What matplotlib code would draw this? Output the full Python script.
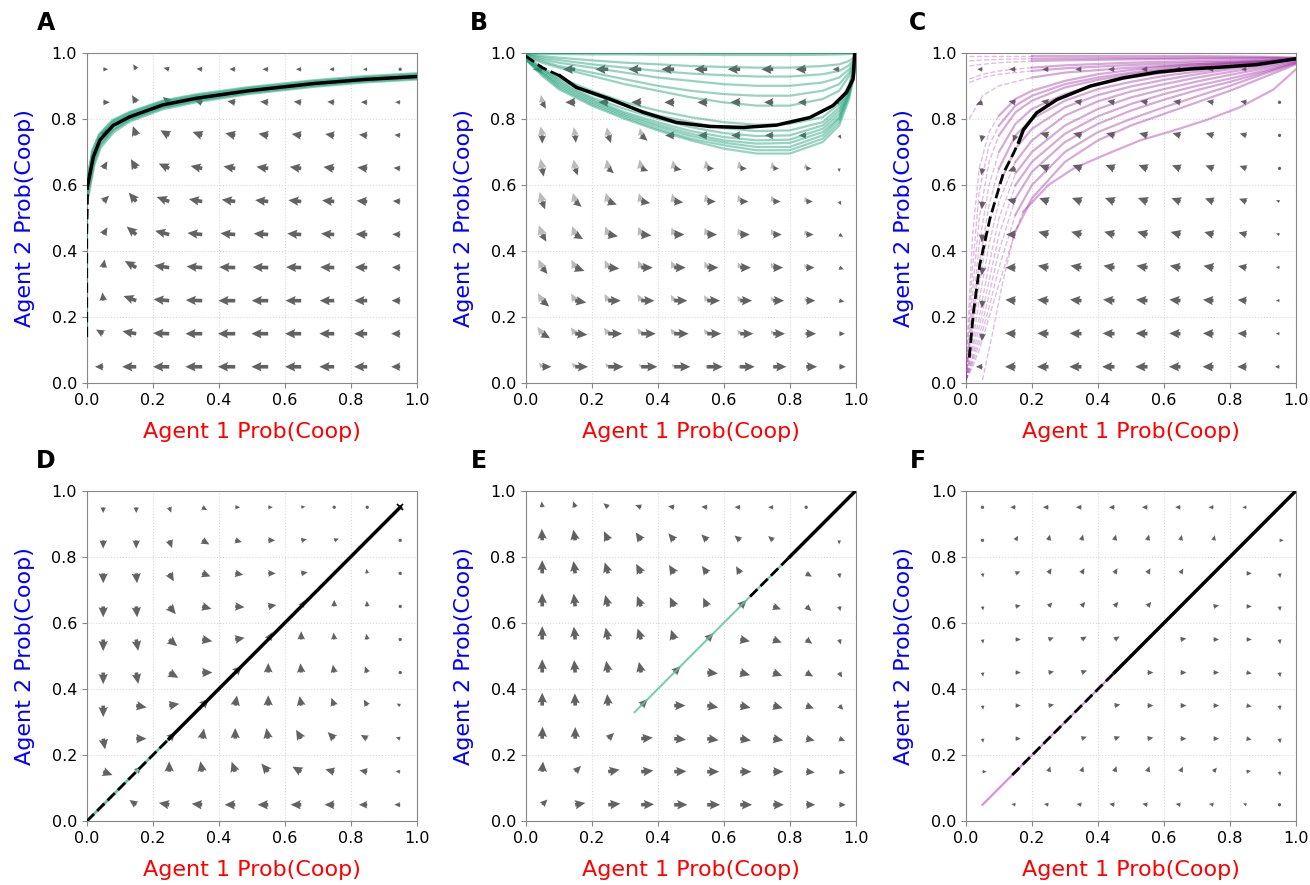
import numpy as np
import matplotlib.pyplot as plt

# ---------------- data ----------------
grid_pts = [0.05, 0.15, 0.25, 0.35, 0.45, 0.55, 0.65, 0.75, 0.85, 0.95]

# vector fields: rows listed top (y=0.95) to bottom (y=0.05); angle in degrees, relative length
A_ang = [[0, 120, 165, 175, 178, 180, 180, 180, 180, 180],
         [0, 120, 140, 165, 172, 175, 175, 175, 178, 178],
         [60, 110, 150, 160, 168, 170, 172, 172, 175, 175],
         [60, 120, 155, 168, 170, 172, 172, 172, 174, 175],
         [45, 130, 160, 170, 172, 174, 174, 175, 176, 176],
         [60, 140, 165, 174, 175, 176, 176, 176, 178, 178],
         [80, 150, 172, 176, 178, 178, 178, 178, 178, 178],
         [95, 160, 175, 178, 180, 180, 180, 180, 180, 180],
         [150, 170, 178, 180, 180, 180, 180, 180, 180, 180],
         [180, 180, 180, 180, 180, 180, 180, 180, 180, 180]]
A_mag = [[0.3, 0.35, 0.35, 0.35, 0.35, 0.35, 0.32, 0.3, 0.25, 0.18],
         [0.4, 0.5, 0.5, 0.5, 0.48, 0.48, 0.45, 0.42, 0.38, 0.3],
         [0.45, 0.6, 0.62, 0.62, 0.62, 0.6, 0.58, 0.55, 0.5, 0.35],
         [0.5, 0.65, 0.7, 0.72, 0.72, 0.72, 0.7, 0.66, 0.6, 0.4],
         [0.5, 0.7, 0.8, 0.82, 0.82, 0.8, 0.78, 0.74, 0.65, 0.45],
         [0.5, 0.75, 0.88, 0.9, 0.9, 0.88, 0.85, 0.8, 0.7, 0.48],
         [0.5, 0.8, 0.92, 0.95, 0.97, 0.95, 0.92, 0.85, 0.75, 0.5],
         [0.5, 0.82, 0.95, 1.0, 1.02, 1.0, 0.95, 0.88, 0.78, 0.52],
         [0.5, 0.85, 0.98, 1.02, 1.05, 1.02, 0.98, 0.9, 0.8, 0.55],
         [0.5, 0.85, 0.98, 1.02, 1.05, 1.02, 0.98, 0.9, 0.8, 0.55]]

B_dark_ang = [[180] * 10,
              [300, 180, 180, 180, 180, 180, 180, 180, 180, 180],
              [270, 275, 290, 320, 180, 180, 180, 180, 180, 300],
              [280, 290, 320, 340, 350, 0, 0, 0, 0, 270],
              [290, 320, 340, 350, 355, 0, 0, 0, 0, 300],
              [300, 330, 350, 355, 0, 0, 0, 0, 0, 330],
              [310, 340, 355, 0, 0, 0, 0, 0, 0, 340],
              [320, 350, 0, 0, 0, 0, 0, 0, 0, 350],
              [330, 355, 0, 0, 0, 0, 0, 0, 0, 0],
              [0] * 10]
B_dark_mag = [[0.55, 0.75, 0.78, 0.78, 0.78, 0.78, 0.76, 0.72, 0.65, 0.4],
              [0.45, 0.6, 0.6, 0.6, 0.6, 0.6, 0.6, 0.55, 0.5, 0.3],
              [0.5, 0.45, 0.5, 0.5, 0.55, 0.55, 0.55, 0.5, 0.45, 0.25],
              [0.5, 0.45, 0.45, 0.45, 0.45, 0.42, 0.4, 0.35, 0.32, 0.22],
              [0.5, 0.5, 0.55, 0.55, 0.55, 0.52, 0.5, 0.45, 0.4, 0.25],
              [0.5, 0.55, 0.6, 0.62, 0.62, 0.6, 0.58, 0.52, 0.45, 0.28],
              [0.5, 0.6, 0.68, 0.7, 0.7, 0.68, 0.65, 0.6, 0.5, 0.3],
              [0.55, 0.68, 0.76, 0.8, 0.8, 0.78, 0.72, 0.66, 0.55, 0.32],
              [0.55, 0.74, 0.85, 0.88, 0.88, 0.85, 0.8, 0.72, 0.6, 0.35],
              [0.55, 0.78, 0.92, 0.98, 0.98, 0.95, 0.88, 0.8, 0.66, 0.4]]

B_light_ang = [[100] * 10, [100] * 10, [100] * 10, [100] * 10, [105] * 10,
               [110] * 10, [115] * 10, [120] * 10, [125] * 10, [130] * 10]
B_light_mag = [[0] * 10,
               [0.45, 0, 0, 0, 0, 0, 0, 0, 0, 0],
               [0.55, 0.5, 0.5, 0.45, 0, 0, 0, 0, 0, 0],
               [0.6, 0.55, 0.55, 0.55, 0.5, 0.5, 0.45, 0.4, 0.32, 0],
               [0.6, 0.55, 0.55, 0.52, 0.5, 0.46, 0.42, 0.38, 0.3, 0],
               [0.6, 0.55, 0.52, 0.5, 0.46, 0.44, 0.4, 0.35, 0.28, 0],
               [0.55, 0.52, 0.5, 0.46, 0.44, 0.4, 0.36, 0.32, 0.25, 0],
               [0.52, 0.5, 0.46, 0.44, 0.4, 0.38, 0.33, 0.28, 0.22, 0],
               [0.5, 0.46, 0.44, 0.4, 0.38, 0.35, 0.3, 0.26, 0.2, 0],
               [0.32, 0.32, 0.28, 0.22, 0.22, 0.2, 0.16, 0, 0, 0]]

C_ang = [[180, 180, 180, 180, 180, 180, 180, 180, 180, 180],
         [200, 170, 170, 170, 170, 170, 170, 170, 170, 170],
         [260, 250, 165, 165, 165, 165, 165, 165, 165, 165],
         [260, 200, 160, 160, 160, 160, 160, 160, 160, 160],
         [265, 165, 160, 160, 160, 160, 160, 160, 160, 160],
         [265, 180, 165, 165, 165, 165, 165, 165, 165, 165],
         [265, 180, 170, 170, 170, 170, 170, 170, 170, 170],
         [265, 175, 175, 175, 175, 175, 175, 175, 175, 175],
         [265, 178, 178, 178, 178, 178, 178, 178, 178, 178],
         [180, 180, 180, 180, 180, 180, 180, 180, 180, 180]]
C_mag = [[0.32, 0.38, 0.38, 0.38, 0.38, 0.38, 0.38, 0.35, 0.32, 0],
         [0.42, 0.42, 0.45, 0.45, 0.45, 0.45, 0.45, 0.42, 0.38, 0.18],
         [0.42, 0.42, 0.52, 0.52, 0.52, 0.52, 0.5, 0.48, 0.42, 0.18],
         [0.42, 0.48, 0.58, 0.58, 0.58, 0.58, 0.55, 0.52, 0.45, 0.18],
         [0.48, 0.52, 0.6, 0.62, 0.62, 0.62, 0.58, 0.55, 0.48, 0.22],
         [0.48, 0.58, 0.64, 0.65, 0.65, 0.65, 0.62, 0.58, 0.5, 0.22],
         [0.48, 0.6, 0.66, 0.68, 0.68, 0.68, 0.66, 0.62, 0.52, 0.22],
         [0.45, 0.62, 0.68, 0.7, 0.7, 0.7, 0.68, 0.64, 0.54, 0.22],
         [0.45, 0.62, 0.68, 0.72, 0.72, 0.72, 0.68, 0.64, 0.54, 0.22],
         [0.4, 0.64, 0.7, 0.74, 0.75, 0.74, 0.7, 0.66, 0.56, 0.28]]

D_ang = [[270, 270, 290, 330, 0, 0, 10, 20, 45, 0],
         [270, 270, 290, 330, 345, 0, 10, 20, 0, 80],
         [270, 275, 300, 340, 350, 0, 10, 0, 100, 90],
         [270, 275, 310, 345, 355, 10, 60, 90, 95, 100],
         [270, 280, 320, 350, 10, 60, 90, 95, 100, 110],
         [270, 280, 330, 0, 45, 90, 95, 100, 110, 120],
         [270, 350, 10, 45, 80, 90, 100, 110, 120, 150],
         [280, 0, 45, 80, 90, 100, 120, 135, 150, 165],
         [340, 45, 90, 100, 110, 130, 150, 165, 170, 175],
         [45, 145, 170, 175, 180, 180, 180, 180, 180, 180]]
D_mag = [[0.35, 0.35, 0.35, 0.35, 0.3, 0.28, 0.25, 0.2, 0.14, 0],
         [0.5, 0.5, 0.5, 0.5, 0.42, 0.42, 0.35, 0.3, 0, 0.16],
         [0.6, 0.6, 0.56, 0.54, 0.5, 0.45, 0.4, 0, 0.28, 0.16],
         [0.66, 0.66, 0.62, 0.58, 0.56, 0.5, 0.42, 0.4, 0.34, 0.2],
         [0.7, 0.7, 0.64, 0.62, 0.58, 0.5, 0.5, 0.42, 0.35, 0.2],
         [0.7, 0.7, 0.64, 0.62, 0.58, 0.58, 0.56, 0.48, 0.4, 0.2],
         [0.7, 0.64, 0.62, 0.58, 0.62, 0.62, 0.58, 0.5, 0.42, 0.25],
         [0.66, 0.62, 0.54, 0.62, 0.64, 0.64, 0.62, 0.56, 0.45, 0.28],
         [0.6, 0.45, 0.62, 0.64, 0.64, 0.64, 0.62, 0.56, 0.48, 0.28],
         [0.2, 0.5, 0.64, 0.64, 0.64, 0.64, 0.64, 0.58, 0.5, 0.35]]

E_ang = [[95, 110, 140, 160, 170, 175, 178, 180, 180, 0],
         [92, 100, 115, 125, 130, 135, 140, 140, 0, 270],
         [90, 98, 108, 118, 122, 125, 120, 0, 330, 280],
         [90, 97, 105, 112, 115, 115, 45, 340, 320, 285],
         [90, 96, 102, 108, 108, 45, 350, 340, 325, 290],
         [90, 95, 100, 102, 45, 355, 345, 340, 330, 300],
         [90, 92, 95, 45, 0, 350, 348, 345, 340, 315],
         [88, 90, 45, 5, 355, 352, 350, 350, 348, 340],
         [85, 45, 10, 5, 2, 0, 0, 0, 355, 350],
         [45, 10, 5, 2, 0, 0, 0, 0, 0, 0]]
E_mag = [[0.35, 0.38, 0.38, 0.38, 0.38, 0.36, 0.34, 0.3, 0.22, 0],
         [0.7, 0.65, 0.6, 0.58, 0.55, 0.5, 0.45, 0.4, 0, 0.25],
         [0.8, 0.75, 0.7, 0.65, 0.6, 0.55, 0.5, 0, 0.4, 0.3],
         [0.8, 0.78, 0.72, 0.68, 0.62, 0.58, 0.55, 0.5, 0.42, 0.3],
         [0.8, 0.78, 0.74, 0.7, 0.62, 0.55, 0.6, 0.55, 0.45, 0.32],
         [0.8, 0.76, 0.72, 0.66, 0.55, 0.65, 0.62, 0.58, 0.48, 0.35],
         [0.78, 0.74, 0.7, 0.55, 0.68, 0.68, 0.64, 0.6, 0.5, 0.36],
         [0.72, 0.7, 0.5, 0.7, 0.72, 0.7, 0.66, 0.62, 0.52, 0.38],
         [0.62, 0.5, 0.7, 0.74, 0.74, 0.72, 0.68, 0.62, 0.52, 0.38],
         [0.45, 0.62, 0.74, 0.78, 0.8, 0.78, 0.72, 0.65, 0.55, 0.4]]

F_ang = [[180, 180, 180, 180, 180, 180, 180, 180, 180, 0],
         [0, 60, 75, 75, 75, 75, 75, 75, 0, 0],
         [280, 20, 60, 60, 60, 60, 60, 0, 0, 280],
         [280, 10, 45, 50, 50, 50, 45, 10, 0, 280],
         [280, 0, 20, 30, 30, 45, 10, 0, 0, 280],
         [280, 0, 10, 20, 45, 0, 0, 0, 350, 280],
         [280, 0, 10, 45, 10, 0, 0, 0, 350, 280],
         [280, 0, 45, 20, 20, 10, 0, 0, 350, 280],
         [0, 45, 70, 70, 70, 70, 65, 50, 10, 280],
         [45, 170, 170, 170, 170, 170, 170, 170, 160, 30]]
F_mag = [[0.2, 0.32, 0.34, 0.34, 0.34, 0.34, 0.32, 0.3, 0.25, 0],
         [0.22, 0.32, 0.36, 0.36, 0.36, 0.36, 0.34, 0.32, 0, 0.25],
         [0.25, 0.32, 0.36, 0.36, 0.36, 0.36, 0.34, 0, 0.32, 0.28],
         [0.25, 0.32, 0.34, 0.36, 0.36, 0.36, 0, 0.34, 0.32, 0.28],
         [0.25, 0.32, 0.34, 0.36, 0.36, 0, 0.36, 0.34, 0.32, 0.28],
         [0.25, 0.32, 0.34, 0.36, 0, 0.36, 0.36, 0.34, 0.32, 0.28],
         [0.25, 0.32, 0.34, 0, 0.36, 0.36, 0.36, 0.34, 0.32, 0.28],
         [0.25, 0.32, 0, 0.34, 0.36, 0.36, 0.36, 0.34, 0.32, 0.28],
         [0.25, 0, 0.34, 0.34, 0.36, 0.36, 0.34, 0.32, 0.28, 0.25],
         [0, 0.25, 0.28, 0.3, 0.32, 0.32, 0.3, 0.28, 0.22, 0.2]]

# ---- trajectories ----
# panel A
A_mean_dash_x = [0.0, 0.0, 0.003]
A_mean_dash_y = [0.14, 0.45, 0.6]
A_x = [0.003, 0.02, 0.04, 0.08, 0.13, 0.23, 0.33, 0.49, 0.69, 0.84, 1.0]
A_mean_y = [0.6, 0.685, 0.736, 0.78, 0.806, 0.842, 0.862, 0.885, 0.907, 0.919, 0.928]
A_runs = [[0.58, 0.67, 0.725, 0.77, 0.8, 0.836, 0.857, 0.881, 0.903, 0.916, 0.925],
          [0.6, 0.7, 0.748, 0.79, 0.815, 0.849, 0.868, 0.89, 0.911, 0.923, 0.932],
          [0.57, 0.66, 0.715, 0.762, 0.795, 0.832, 0.853, 0.878, 0.9, 0.913, 0.922],
          [0.61, 0.705, 0.752, 0.794, 0.818, 0.852, 0.871, 0.893, 0.914, 0.926, 0.935]]

# panel B
B_x = [0, 0.05, 0.1, 0.2, 0.3, 0.4, 0.5, 0.6, 0.7, 0.8, 0.9, 0.95, 0.98, 1.0, 1.0]
B_runs = [[0.98, 0.93, 0.89, 0.84, 0.80, 0.765, 0.735, 0.71, 0.695, 0.695, 0.73, 0.78, 0.86, 0.95, 1.0],
          [0.98, 0.935, 0.895, 0.845, 0.805, 0.77, 0.74, 0.72, 0.705, 0.705, 0.74, 0.79, 0.87, 0.955, 1.0],
          [0.98, 0.94, 0.9, 0.85, 0.81, 0.777, 0.748, 0.728, 0.715, 0.715, 0.75, 0.80, 0.875, 0.96, 1.0],
          [0.98, 0.94, 0.905, 0.855, 0.815, 0.783, 0.755, 0.735, 0.725, 0.727, 0.76, 0.805, 0.88, 0.96, 1.0],
          [0.985, 0.945, 0.91, 0.86, 0.82, 0.79, 0.763, 0.745, 0.735, 0.737, 0.77, 0.815, 0.885, 0.965, 1.0],
          [0.985, 0.95, 0.915, 0.865, 0.83, 0.80, 0.775, 0.757, 0.748, 0.75, 0.78, 0.825, 0.89, 0.965, 1.0],
          [0.985, 0.95, 0.92, 0.875, 0.84, 0.81, 0.79, 0.772, 0.763, 0.765, 0.79, 0.835, 0.9, 0.97, 1.0],
          [0.99, 0.955, 0.925, 0.885, 0.85, 0.825, 0.805, 0.79, 0.782, 0.785, 0.805, 0.845, 0.905, 0.97, 1.0],
          [0.99, 0.97, 0.955, 0.93, 0.905, 0.885, 0.865, 0.85, 0.84, 0.84, 0.86, 0.885, 0.93, 0.97, 1.0],
          [0.99, 0.975, 0.96, 0.94, 0.92, 0.9, 0.885, 0.875, 0.87, 0.87, 0.885, 0.905, 0.94, 0.975, 1.0],
          [0.995, 0.98, 0.97, 0.955, 0.94, 0.925, 0.915, 0.905, 0.9, 0.9, 0.91, 0.925, 0.95, 0.98, 1.0],
          [0.995, 0.985, 0.978, 0.965, 0.955, 0.945, 0.937, 0.932, 0.928, 0.928, 0.935, 0.945, 0.962, 0.985, 1.0],
          [0.997, 0.99, 0.985, 0.977, 0.97, 0.965, 0.96, 0.957, 0.955, 0.955, 0.96, 0.965, 0.975, 0.99, 1.0],
          [0.998, 0.997, 0.996, 0.995, 0.995, 0.994, 0.994, 0.993, 0.993, 0.993, 0.994, 0.995, 0.996, 0.998, 1.0],
          [0.999] * 15]
B_mean_dash_x = [0.0, 0.05, 0.104]
B_mean_dash_y = [0.99, 0.955, 0.93]
B_mean_x = [0.104, 0.154, 0.255, 0.356, 0.457, 0.558, 0.659, 0.76, 0.861, 0.931, 0.972, 0.992, 0.997]
B_mean_y = [0.93, 0.895, 0.86, 0.82, 0.789, 0.777, 0.774, 0.781, 0.804, 0.84, 0.88, 0.92, 1.0]

# panel C: rising runs share x grid; first C_split points are the dashed start
C_rx = [0.0, 0.02, 0.04, 0.07, 0.1, 0.15, 0.2, 0.3, 0.4, 0.5, 0.6, 0.7, 0.8, 0.9, 1.0]
C_rise = [[0.05, 0.45, 0.65, 0.76, 0.81, 0.86, 0.885, 0.915, 0.935, 0.948, 0.958, 0.965, 0.97, 0.975, 0.98],
          [0.03, 0.35, 0.58, 0.72, 0.78, 0.84, 0.87, 0.905, 0.925, 0.94, 0.952, 0.96, 0.967, 0.973, 0.98],
          [0.02, 0.28, 0.5, 0.67, 0.75, 0.82, 0.855, 0.895, 0.918, 0.935, 0.948, 0.957, 0.965, 0.972, 0.98],
          [0.02, 0.22, 0.42, 0.6, 0.7, 0.785, 0.83, 0.875, 0.905, 0.925, 0.94, 0.95, 0.96, 0.97, 0.98],
          [0.02, 0.18, 0.36, 0.54, 0.65, 0.75, 0.8, 0.855, 0.89, 0.912, 0.93, 0.943, 0.955, 0.967, 0.98],
          [0.01, 0.15, 0.3, 0.48, 0.6, 0.71, 0.77, 0.835, 0.872, 0.898, 0.918, 0.935, 0.95, 0.963, 0.98],
          [0.01, 0.12, 0.25, 0.42, 0.55, 0.67, 0.735, 0.81, 0.853, 0.883, 0.905, 0.925, 0.942, 0.958, 0.978],
          [0.01, 0.1, 0.2, 0.36, 0.5, 0.635, 0.7, 0.78, 0.83, 0.865, 0.89, 0.913, 0.933, 0.952, 0.975],
          [0.01, 0.08, 0.17, 0.31, 0.45, 0.6, 0.67, 0.755, 0.808, 0.845, 0.875, 0.9, 0.922, 0.945, 0.972],
          [0.01, 0.07, 0.14, 0.27, 0.4, 0.56, 0.64, 0.73, 0.785, 0.825, 0.858, 0.887, 0.912, 0.94, 0.97],
          [0.01, 0.06, 0.12, 0.23, 0.35, 0.51, 0.6, 0.7, 0.76, 0.8, 0.835, 0.868, 0.9, 0.935, 0.968],
          [0.01, 0.05, 0.1, 0.2, 0.3, 0.46, 0.56, 0.67, 0.735, 0.78, 0.815, 0.85, 0.885, 0.925, 0.965]]
C_split = [5, 5, 5, 5, 5, 5, 6, 6, 6, 6, 6, 6]
C_low_x = [0.05, 0.08, 0.11, 0.144, 0.174, 0.25, 0.326, 0.43, 0.528, 0.63, 0.73, 0.83, 0.932, 1.0]
C_low_y = [0.01, 0.15, 0.3, 0.443, 0.52, 0.6, 0.65, 0.695, 0.735, 0.765, 0.797, 0.835, 0.889, 0.95]
C_tx = [0.01, 0.05, 0.1, 0.2, 0.3, 0.5, 0.7, 0.9, 1.0]
C_top = [[0.99, 0.99, 0.99, 0.99, 0.99, 0.99, 0.99, 0.988, 0.985],
         [0.975, 0.978, 0.98, 0.982, 0.983, 0.984, 0.985, 0.985, 0.984],
         [0.96, 0.965, 0.97, 0.975, 0.977, 0.98, 0.982, 0.983, 0.983],
         [0.92, 0.935, 0.945, 0.955, 0.962, 0.97, 0.975, 0.978, 0.98],
         [0.91, 0.925, 0.935, 0.945, 0.953, 0.963, 0.97, 0.975, 0.98],
         [0.8, 0.87, 0.9, 0.925, 0.94, 0.955, 0.965, 0.972, 0.98]]
C_mean_dash_x = [0.01, 0.022, 0.042, 0.073, 0.113, 0.144, 0.16]
C_mean_dash_y = [0.078, 0.21, 0.36, 0.50, 0.635, 0.696, 0.73]
C_mean_x = [0.16, 0.174, 0.214, 0.275, 0.376, 0.477, 0.578, 0.679, 0.78, 0.88, 1.0]
C_mean_y = [0.73, 0.767, 0.818, 0.858, 0.899, 0.924, 0.941, 0.951, 0.957, 0.964, 0.982]

# panels D-F: symmetric runs along the diagonal
D_run = [0.0, 0.25]
D_mean_dash = [0.0, 0.25]
D_mean = [0.25, 0.95]
E_run = [0.33, 0.8]
E_mean_dash = [0.68, 0.8]
E_mean = [0.8, 1.0]
F_run = [0.05, 0.45]
F_mean_dash = [0.14, 0.45]
F_mean = [0.45, 1.0]

GREEN = '#1b9e77'
PURPLE = '#9a2a9e'
ARROW = '#5a5a5a'


def field(ax, ang, mag, color=ARROW, alpha=0.95):
    a = np.radians(np.array(ang, dtype=float)[::-1])
    m = np.array(mag, dtype=float)[::-1]
    X, Y = np.meshgrid(grid_pts, grid_pts)
    mask = m <= 0
    U = np.ma.masked_array(m * np.cos(a), mask)
    V = np.ma.masked_array(m * np.sin(a), mask)
    ax.quiver(X, Y, U, V, angles='xy', scale_units='xy', scale=20,
              color=color, alpha=alpha, width=0.011, headwidth=2.6,
              headlength=2.8, headaxislength=2.5, zorder=2)


def style(ax):
    ax.set_xlim(0, 1)
    ax.set_ylim(0, 1)
    ax.set_xticks([0, 0.2, 0.4, 0.6, 0.8, 1.0])
    ax.set_yticks([0, 0.2, 0.4, 0.6, 0.8, 1.0])
    ax.set_xticklabels(['0.0', '0.2', '0.4', '0.6', '0.8', '1.0'])
    ax.set_yticklabels(['0.0', '0.2', '0.4', '0.6', '0.8', '1.0'])
    ax.tick_params(labelsize=11.5, color='#888888')
    for s in ax.spines.values():
        s.set_color('#888888')
    ax.grid(True, color='#d8d8d8', linestyle=':', linewidth=0.8, zorder=0)
    ax.set_xlabel('Agent 1 Prob(Coop)', color='red', fontsize=16, labelpad=10)
    ax.set_ylabel('Agent 2 Prob(Coop)', color='blue', fontsize=16, labelpad=12)


fig = plt.figure(figsize=(13.1, 8.85), dpi=100)
lefts = [0.0662, 0.4013, 0.7374]
bottoms = [0.5669, 0.0720]
W, H = 0.2519, 0.3735
axes = [fig.add_axes([l, b, W, H]) for b in bottoms for l in lefts]
axA, axB, axC, axD, axE, axF = axes
for ax in axes:
    style(ax)

# A
field(axA, A_ang, A_mag)
for ys in A_runs:
    axA.plot(A_x, ys, color=GREEN, lw=3, alpha=0.5, zorder=3)
axA.plot([0.0, 0.0, 0.003], [0.14, 0.45, 0.6], color=GREEN, lw=1.5, ls='--', alpha=0.5, zorder=3)
axA.plot(A_mean_dash_x, A_mean_dash_y, color='black', lw=2, ls='--', zorder=4)
axA.plot(A_x, A_mean_y, color='black', lw=2.5, zorder=4)

# B
field(axB, B_light_ang, B_light_mag, color='#8c8c8c', alpha=0.6)
field(axB, B_dark_ang, B_dark_mag)
for ys in B_runs:
    axB.plot(B_x, ys, color=GREEN, lw=1.6, alpha=0.45, zorder=3)
axB.plot(B_mean_dash_x, B_mean_dash_y, color='black', lw=2, ls='--', zorder=4)
axB.plot(B_mean_x, B_mean_y, color='black', lw=2.5, zorder=4)

# C
field(axC, C_ang, C_mag)
for ys, k in zip(C_rise, C_split):
    axC.plot(C_rx[:k], ys[:k], color=PURPLE, lw=1, ls='--', alpha=0.3, zorder=3)
    axC.plot(C_rx[k - 1:], ys[k - 1:], color=PURPLE, lw=1.6, alpha=0.4, zorder=3)
axC.plot(C_low_x[:5], C_low_y[:5], color=PURPLE, lw=1, ls='--', alpha=0.3, zorder=3)
axC.plot(C_low_x[4:], C_low_y[4:], color=PURPLE, lw=1.6, alpha=0.4, zorder=3)
for ys in C_top:
    axC.plot(C_tx[:4], ys[:4], color=PURPLE, lw=1, ls='--', alpha=0.3, zorder=3)
    axC.plot(C_tx[3:], ys[3:], color=PURPLE, lw=1.6, alpha=0.4, zorder=3)
axC.plot(C_mean_dash_x, C_mean_dash_y, color='black', lw=2, ls='--', zorder=4)
axC.plot(C_mean_x, C_mean_y, color='black', lw=2.5, zorder=4)

# D
field(axD, D_ang, D_mag)
axD.plot(D_run, D_run, color='#66c2a5', lw=2, zorder=3)
axD.plot(D_mean_dash, D_mean_dash, color='black', lw=2, ls='--', zorder=4)
axD.plot(D_mean, D_mean, color='black', lw=2.5, zorder=4)
axD.plot(D_mean[-1:], D_mean[-1:], marker='x', color='black', ms=5, mew=1.2, zorder=5)

# E
field(axE, E_ang, E_mag)
axE.plot(E_run, E_run, color='#66c2a5', lw=1.5, alpha=0.85, zorder=3)
axE.plot(E_mean_dash, E_mean_dash, color='black', lw=2, ls='--', zorder=4)
axE.plot(E_mean, E_mean, color='black', lw=2.5, zorder=4)

# F
field(axF, F_ang, F_mag)
axF.plot(F_run, F_run, color='#d98ad9', lw=1.5, zorder=3)
axF.plot(F_mean_dash, F_mean_dash, color='black', lw=2, ls='--', zorder=4)
axF.plot(F_mean, F_mean, color='black', lw=2.5, zorder=4)

for letter, x, y in [('A', 46, 23), ('B', 479, 23), ('C', 918, 23),
                     ('D', 46, 461), ('E', 479, 461), ('F', 918, 461)]:
    fig.text(x / 1310, 1 - y / 885, letter, fontsize=17, fontweight='bold',
             ha='center', va='center')

fig.savefig('out.png', dpi=100)
